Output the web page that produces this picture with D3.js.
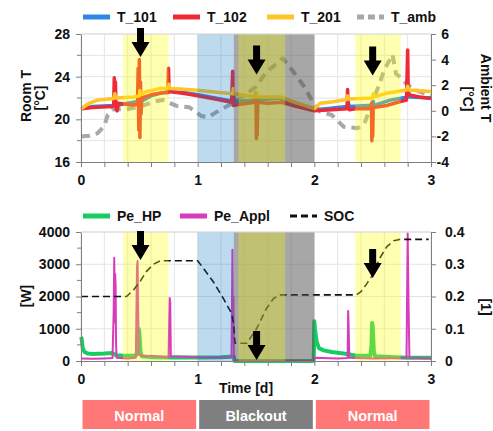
<!DOCTYPE html>
<html>
<meta charset="utf-8">
<style>
  body { margin: 0; background: #fff; }
  svg { display: block; }
  text { font-family: 'Liberation Sans', Arial, sans-serif; font-weight: bold; fill: #111; }
  .tick text { font-size: 14px; }
  .domain { stroke: #7f7f7f; }
  .tick line { stroke: #7f7f7f; }
</style>
<body>
<svg width="493" height="431"></svg>
<script src="https://cdnjs.cloudflare.com/ajax/libs/d3/7.8.5/d3.min.js"></script>
<script>
// ---- data (time in days) ----
let tAmb = [[0,-2.0],[0.07,-1.95],[0.14,-1.76],[0.2,-1.2],[0.23,-0.3],[0.27,0.1],[0.39,0.12],[0.5,0.3],[0.62,0.71],[0.7,0.84],[0.82,0.38],[0.93,0.27],[1.03,-0.4],[1.09,-0.5],[1.19,0.06],[1.3,0.6],[1.4,1.2],[1.5,1.88],[1.59,3.05],[1.68,3.7],[1.73,4.1],[1.82,3.05],[1.92,1.8],[1.99,0.6],[2.05,-0.07],[2.15,-0.33],[2.25,-1.24],[2.37,-1.37],[2.43,-0.98],[2.49,0.5],[2.55,1.9],[2.6,3.2],[2.67,4.4],[2.7,2.9],[2.74,2.6],[2.8,2.0],[2.9,1.5],[3.0,1.2]];

let t101 = [[0,21.0],[0.1,21.2],[0.28,21.3],[0.29,21.6],[0.3,21.3],[0.4,21.5],[0.5,21.7],[0.51,22.2],[0.52,21.7],[0.6,22.2],[0.7,22.5],[0.75,22.6],[0.76,22.9],[0.77,22.6],[0.9,22.5],[1.0,22.3],[1.15,22.0],[1.3,21.7],[1.31,22.2],[1.32,21.7],[1.5,21.8],[1.505,22.2],[1.51,21.8],[1.7,22.0],[1.85,21.5],[2.0,20.9],[2.1,21.0],[2.28,21.2],[2.29,21.6],[2.3,21.2],[2.45,21.3],[2.5,21.3],[2.505,21.7],[2.51,21.3],[2.65,21.8],[2.8,22.1],[2.81,22.5],[2.82,22.1],[3.0,22.0]];

let t102 = [[0,21.0],[0.1,21.1],[0.27,21.2],[0.28,21.3],[0.285,23.9],[0.29,22.8],[0.295,23.5],[0.3,21.0],[0.31,20.8],[0.32,21.5],[0.43,21.35],[0.48,21.4],[0.485,21.5],[0.49,24.8],[0.495,19.0],[0.5,25.6],[0.505,18.3],[0.51,23.5],[0.515,20.5],[0.52,22.0],[0.6,22.3],[0.7,22.5],[0.745,22.5],[0.75,24.8],[0.755,22.8],[0.76,22.6],[0.9,22.4],[1.0,22.2],[1.15,21.9],[1.29,21.6],[1.3,24.5],[1.305,21.3],[1.35,21.4],[1.495,21.6],[1.5,22.5],[1.503,18.2],[1.507,21.0],[1.51,18.5],[1.515,21.6],[1.6,21.5],[1.72,21.6],[1.85,21.2],[2.0,20.8],[2.15,20.9],[2.28,21.0],[2.285,22.8],[2.29,21.2],[2.3,20.9],[2.35,21.0],[2.485,21.0],[2.49,21.5],[2.493,18.0],[2.497,20.8],[2.5,18.4],[2.505,21.1],[2.62,21.3],[2.73,21.65],[2.79,21.8],[2.8,26.5],[2.805,22.3],[2.9,22.1],[3.0,21.95]];

let t201 = [[0,21.0],[0.07,21.5],[0.14,21.8],[0.28,21.95],[0.29,22.4],[0.3,22.0],[0.45,22.1],[0.5,22.2],[0.505,22.7],[0.51,22.3],[0.56,22.6],[0.68,22.9],[0.75,22.9],[0.755,23.3],[0.76,22.9],[0.85,22.85],[0.97,22.75],[1.1,22.6],[1.3,22.4],[1.305,22.9],[1.31,22.4],[1.5,22.1],[1.505,22.5],[1.51,22.1],[1.71,22.1],[1.82,21.65],[2.0,21.0],[2.05,21.5],[2.16,21.65],[2.28,21.85],[2.285,22.2],[2.29,21.9],[2.45,21.97],[2.5,22.0],[2.505,22.4],[2.51,22.1],[2.62,22.45],[2.79,22.75],[2.8,23.1],[2.81,22.75],[3.0,22.6]];

let peHP = [[0,750],[0.005,700],[0.015,400],[0.03,280],[0.06,230],[0.1,220],[0.2,230],[0.27,250],[0.3,180],[0.35,170],[0.45,160],[0.48,200],[0.49,700],[0.495,1000],[0.5,900],[0.505,600],[0.51,300],[0.52,150],[0.6,120],[0.8,110],[1.0,110],[1.2,120],[1.31,140],[1.315,0],[1.995,0],[2.0,1230],[2.005,1000],[2.02,600],[2.04,400],[2.08,330],[2.15,280],[2.25,230],[2.35,170],[2.48,160],[2.49,500],[2.495,1180],[2.5,1100],[2.505,700],[2.51,300],[2.52,150],[2.7,120],[2.8,100],[3.0,100]];

let peAppl = [[0,80],[0.1,70],[0.2,80],[0.27,90],[0.28,1500],[0.285,3200],[0.29,1200],[0.293,2700],[0.297,2300],[0.3,600],[0.305,100],[0.4,80],[0.47,100],[0.48,2900],[0.485,3100],[0.49,1500],[0.495,200],[0.55,150],[0.6,160],[0.75,120],[0.76,1950],[0.765,1800],[0.77,150],[1.0,120],[1.2,110],[1.29,120],[1.298,3450],[1.302,1500],[1.306,2000],[1.31,100],[1.315,0],[1.995,0],[2.0,100],[2.2,80],[2.285,90],[2.29,1550],[2.295,900],[2.3,100],[2.5,80],[2.79,90],[2.8,3950],[2.805,2400],[2.81,1200],[2.815,100],[3.0,80]];

let soc = [[0,0.2],[0.39,0.2],[0.45,0.22],[0.505,0.246],[0.56,0.277],[0.62,0.3],[0.68,0.311],[1.0,0.311],[1.134,0.246],[1.22,0.194],[1.29,0.148],[1.31,0.112],[1.32,0.055],[1.42,0.055],[1.505,0.1],[1.59,0.163],[1.65,0.194],[1.705,0.205],[2.36,0.205],[2.4,0.215],[2.45,0.24],[2.5,0.267],[2.56,0.318],[2.62,0.354],[2.68,0.373],[2.73,0.377],[2.98,0.377]];

// shaded periods [start, end, kind]
let bands = [[0.36,0.75,"pv"],[1.0,1.31,"cold"],[1.31,2.0,"out"],[1.35,1.75,"pv"],[2.35,2.74,"pv"]];
let phases = [[0,1,"Normal"],[1,2,"Blackout"],[2,3,"Normal"]];
let arrowsTop = [[0.51,25.85],[1.505,24.2],[2.5,24.1]];
let arrowsBot = [[0.51,3130],[1.505,30],[2.5,2570]];

let xTicks = [0,1,2,3];
let xMinor = [0,0.2,0.4,0.6,0.8,1,1.2,1.4,1.6,1.8,2,2.2,2.4,2.6,2.8,3];
let roomTicks = [16,20,24,28];
let ambTicks = [-4,-2,0,2,4,6];
let wTicks = [0,1000,2000,3000,4000];
let socTicks = [0,0.1,0.2,0.3,0.4];

let colors = { T_101: "#2f86e6", T_102: "#ee2a36", T_201: "#ffc526", T_amb: "#a8a8a8",
               Pe_HP: "#18cc62", Pe_Appl: "#d83cb8", SOC: "#111" };
let bandFill = { pv: "rgba(255,255,0,0.3)", cold: "rgba(0,112,192,0.26)", out: "rgba(80,80,80,0.5)" };

// ---- layout ----
let svg = d3.select("svg");
let x = d3.scaleLinear().domain([0,3]).range([81,431]);
let yT = d3.scaleLinear().domain([16,28]).range([162,34]);
let yA = d3.scaleLinear().domain([-4,6]).range([162,34]);
let yW = d3.scaleLinear().domain([0,4000]).range([361,232]);
let yS = d3.scaleLinear().domain([0,0.4]).range([361,232]);

function panel(yL, top, bottom, gridVals) {
  let g = svg.append("g");
  g.selectAll(".vg").data(xMinor).join("line")
    .attr("x1", d => x(d)).attr("x2", d => x(d)).attr("y1", top).attr("y2", bottom)
    .attr("stroke", "#e4e4e4");
  g.selectAll(".hg").data(gridVals).join("line")
    .attr("x1", x(0)).attr("x2", x(3)).attr("y1", d => yL(d)).attr("y2", d => yL(d))
    .attr("stroke", "#e4e4e4");
  return g;
}

panel(yT, 34, 162, [18,20,22,24,26,28]);
panel(yW, 232, 361, [1000,2000,3000,4000]);

function drawLine(data, xs, ys, color, w, dash) {
  let line = d3.line().x(d => xs(d[0])).y(d => ys(d[1]));
  svg.append("path").datum(data).attr("d", line)
    .attr("fill", "none").attr("stroke", color).attr("stroke-width", w)
    .attr("stroke-linejoin", "round")
    .attr("stroke-dasharray", dash || null);
}

// top panel lines
drawLine(tAmb, x, yA, colors.T_amb, 4, "9,6");
drawLine(t101, x, yT, colors.T_101, 3.5);
drawLine(t102, x, yT, colors.T_102, 3.5);
drawLine(t201, x, yT, colors.T_201, 3.5);

// bottom panel lines
drawLine(peHP, x, yW, colors.Pe_HP, 4);
drawLine(peAppl, x, yW, colors.Pe_Appl, 2);
drawLine(soc, x, yS, colors.SOC, 1.6, "7,4");

// shaded bands over the lines
[[34,162],[232,361]].forEach(function(r) {
  svg.append("g").selectAll("rect").data(bands).join("rect")
    .attr("x", d => x(d[0])).attr("width", d => x(d[1]) - x(d[0]))
    .attr("y", r[0]).attr("height", r[1] - r[0])
    .attr("fill", d => bandFill[d[2]]);
});

// axes
function xAxis(y0) {
  svg.append("g").attr("transform", "translate(0," + y0 + ")")
    .call(d3.axisBottom(x).tickValues(xMinor).tickSize(5).tickSizeOuter(0).tickFormat(d => xTicks.includes(d) ? d : ""))
    .call(g => g.selectAll("text").attr("dy", "1.05em"));
}
function leftAxis(scale, vals, minor) {
  let g = svg.append("g").attr("transform", "translate(81,0)")
    .call(d3.axisLeft(scale).tickValues(vals).tickSize(5).tickSizeOuter(0).tickPadding(6).tickFormat(d => d));
  g.selectAll(".minor").data(minor).join("line").attr("class", "minor")
    .attr("x1", -4).attr("x2", 0).attr("y1", d => scale(d)).attr("y2", d => scale(d)).attr("stroke", "#7f7f7f");
}
xAxis(162);
xAxis(361);
leftAxis(yT, roomTicks, [18,22,26]);
leftAxis(yW, wTicks, [500,1500,2500,3500]);

svg.append("g").attr("transform", "translate(431,0)")
  .call(d3.axisRight(yA).tickValues(ambTicks).tickSize(5).tickSizeOuter(0).tickFormat(d => d))
  .call(g => g.selectAll("text").attr("text-anchor", "end").attr("x", 18));
svg.append("g").attr("transform", "translate(431,0)")
  .call(d3.axisRight(yS).tickValues(socTicks).tickSize(5).tickSizeOuter(0).tickPadding(9).tickFormat(d => d));

svg.selectAll(".tick text").attr("fill", "#111").style("font-weight", "bold");
svg.append("line").attr("x1", 81).attr("x2", 431).attr("y1", 34).attr("y2", 34).attr("stroke", "#dcdcdc");
svg.append("line").attr("x1", 81).attr("x2", 431).attr("y1", 232).attr("y2", 232).attr("stroke", "#dcdcdc");

// arrows
function arrow(xv, yv) {
  let tx = x(xv), ty = yv;
  let p = [[tx, ty], [tx-9, ty-15], [tx-3.5, ty-15], [tx-3.5, ty-29], [tx+3.5, ty-29], [tx+3.5, ty-15], [tx+9, ty-15]];
  svg.append("path").attr("d", "M" + p.join("L") + "Z").attr("fill", "#000");
}
arrowsTop.forEach(d => arrow(d[0], yT(d[1])));
arrowsBot.forEach(d => arrow(d[0], yW(d[1])));

// axis titles
function vtext(tx, ty, rot, s) {
  svg.append("text").attr("transform", "translate(" + tx + "," + ty + ") rotate(" + rot + ")")
    .attr("text-anchor", "middle").style("font-size", "14px").text(s);
}
vtext(31, 96, -90, "Room T");
vtext(45, 98, -90, "[°C]");
vtext(481, 88, 90, "Ambient T");
vtext(463, 99, 90, "[°C]");
vtext(31, 296, -90, "[W]");
vtext(481, 307, 90, "[1]");
svg.append("text").attr("x", 246).attr("y", 393).attr("text-anchor", "middle").style("font-size", "14px").text("Time [d]");

// legends
function legend(items, y0) {
  items.forEach(function(it) {
    svg.append("line").attr("x1", it[1]).attr("x2", it[1] + 27).attr("y1", y0).attr("y2", y0)
      .attr("stroke", colors[it[0]]).attr("stroke-width", it[3] || 5)
      .attr("stroke-dasharray", it[2] || null);
    svg.append("text").attr("x", it[1] + 34).attr("y", y0 + 5).style("font-size", "14px").text(it[0]);
  });
}
legend([["T_101", 83], ["T_102", 173], ["T_201", 267], ["T_amb", 357, "7,4"]], 17);
legend([["Pe_HP", 83], ["Pe_Appl", 180], ["SOC", 290, "7,4", 3]], 216);

// phase boxes
let pg = svg.append("g").selectAll("g").data(phases).join("g");
pg.append("rect").attr("x", d => x(d[0]) + 1.5).attr("width", d => x(d[1]) - x(d[0]) - 3)
  .attr("y", 400).attr("height", 29)
  .attr("fill", d => d[2] === "Blackout" ? "#7f7f7f" : "#ff7777");
pg.append("text").attr("x", d => (x(d[0]) + x(d[1])) / 2).attr("y", 421)
  .attr("text-anchor", "middle").style("font-size", "14.5px").style("fill", "#fff").text(d => d[2]);
</script>
</body>
</html>
